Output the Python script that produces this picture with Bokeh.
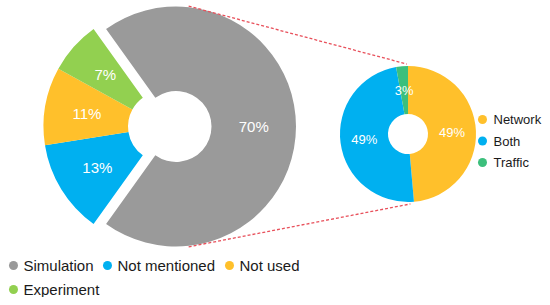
import math
from bokeh.plotting import figure
from bokeh.models import Range1d, ColumnDataSource
from bokeh.core.properties import value
from bokeh.embed import file_html
from bokeh.resources import INLINE

# ---- data ----
main_labels = ["Simulation", "Not mentioned", "Not used", "Experiment"]
main_values = [69.8, 12.6, 10.5, 7.1]
main_text = ["70%", "13%", "11%", "7%"]
main_colors = ["#9a9a9a", "#00b0f0", "#ffc02b", "#92d050"]

sub_labels = ["Network", "Both", "Traffic"]
sub_values = [48.6, 48.6, 2.8]
sub_text = ["49%", "49%", "3%"]
sub_colors = ["#ffc02b", "#00b0f0", "#3cbf7c"]

FONT = "Liberation Sans"
W, H = 542, 297

p = figure(width=W, height=H, output_backend="svg", toolbar_location=None,
           x_range=Range1d(0, W), y_range=Range1d(305 - H, 305),
           min_border=0)
p.axis.visible = False
p.grid.visible = False
p.outline_line_color = None
p.background_fill_color = "white"


def slices(values, start_deg, cx, cy, explode_idx=None, explode=0.0):
    total = sum(values)
    a = math.radians(start_deg)
    out = []
    for i, v in enumerate(values):
        span = 2 * math.pi * v / total
        s, e = a - span, a
        mid = (s + e) / 2
        x, y = cx, cy
        if i == explode_idx:
            x += explode * math.cos(mid)
            y += explode * math.sin(mid)
        out.append((x, y, s, e, mid))
        a -= span
    return out


# main donut
mcx, mcy = 163, 179
m_in, m_out = 35.5, 120
main_start = 360 * main_values[0] / sum(main_values) / 2
ms = slices(main_values, main_start, mcx, mcy, explode_idx=0, explode=12.5)
src = ColumnDataSource(dict(
    x=[s[0] for s in ms], y=[s[1] for s in ms],
    s=[s[2] for s in ms], e=[s[3] for s in ms], c=main_colors))
p.annular_wedge(x="x", y="y", inner_radius=m_in, outer_radius=m_out,
                start_angle="s", end_angle="e", fill_color="c",
                line_color=None, source=src)
rm = (m_in + m_out) / 2
p.text(x=[s[0] + rm * math.cos(s[4]) for s in ms],
       y=[s[1] + rm * math.sin(s[4]) for s in ms],
       text=main_text, text_color="white", text_font=value(FONT),
       text_font_size="15px", text_align="center", text_baseline="middle")

# sub donut
scx, scy = 407.5, 171.5
s_in, s_out = 20, 68
ss = slices(sub_values, 90, scx, scy)
src2 = ColumnDataSource(dict(
    x=[s[0] for s in ss], y=[s[1] for s in ss],
    s=[s[2] for s in ss], e=[s[3] for s in ss], c=sub_colors))
p.annular_wedge(x="x", y="y", inner_radius=s_in, outer_radius=s_out,
                start_angle="s", end_angle="e", fill_color="c",
                line_color=None, source=src2)
rs = (s_in + s_out) / 2
p.text(x=[s[0] + rs * math.cos(s[4]) for s in ss],
       y=[s[1] + rs * math.sin(s[4]) for s in ss],
       text=sub_text, text_color="white", text_font=value(FONT),
       text_font_size="13px", text_align="center", text_baseline="middle")

# connector lines
gx, gy = ms[0][0], ms[0][1]
for ga, sa in [(84, 91), (-84, -88)]:
    x0 = gx + (m_out + 1) * math.cos(math.radians(ga))
    y0 = gy + (m_out + 1) * math.sin(math.radians(ga))
    x1 = scx + (s_out + 2) * math.cos(math.radians(sa))
    y1 = scy + (s_out + 2) * math.sin(math.radians(sa))
    p.line([x0, x1], [y0, y1], line_color="#e8505b", line_width=1.3,
           line_dash="3 2")

# bottom legend
leg_cx = [13, 107, 229, 13]
leg_cy = [40, 40, 40, 16]
p.scatter(x=leg_cx, y=leg_cy, size=9, marker="circle",
          fill_color=main_colors, line_color=None)
p.text(x=[c + 10 for c in leg_cx], y=leg_cy, text=main_labels,
       text_color="#1a1a1a", text_font=value(FONT), text_font_size="15px",
       text_align="left", text_baseline="middle")

# right legend
r_cx = [482, 482, 482]
r_cy = [186, 164.5, 143]
p.scatter(x=r_cx, y=r_cy, size=9, marker="circle",
          fill_color=sub_colors, line_color=None)
p.text(x=[c + 11 for c in r_cx], y=r_cy, text=sub_labels,
       text_color="#1a1a1a", text_font=value(FONT), text_font_size="13px",
       text_align="left", text_baseline="middle")

open("out.html", "w").write(file_html(p, INLINE))
